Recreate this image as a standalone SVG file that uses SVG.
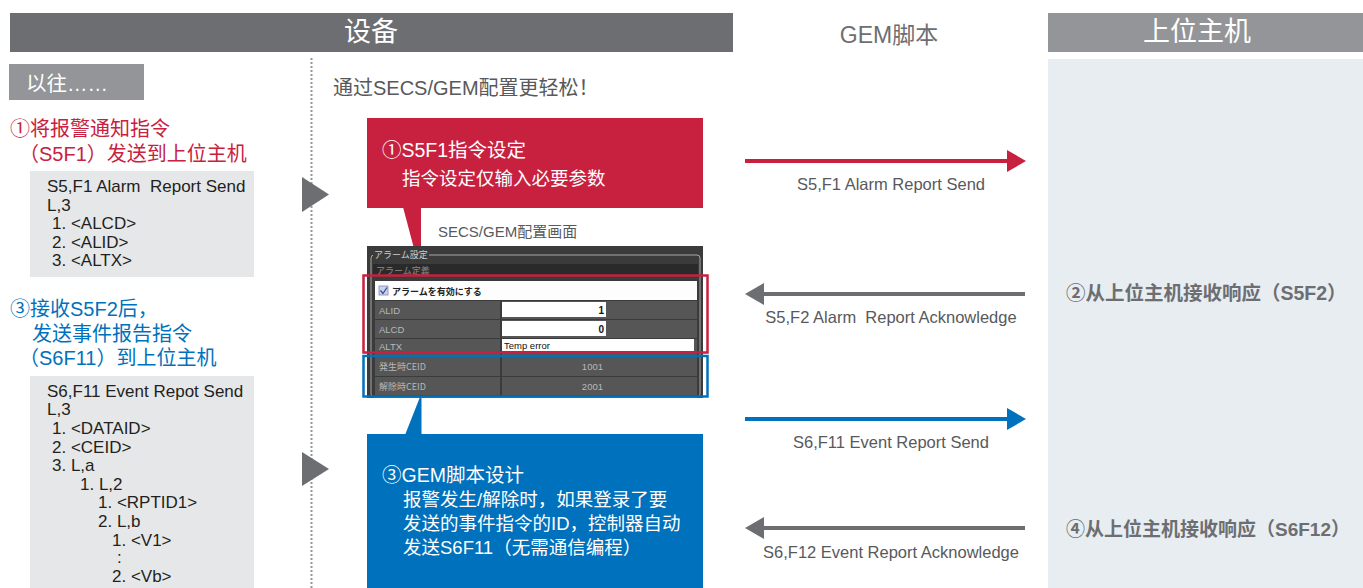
<svg xmlns="http://www.w3.org/2000/svg" width="1363" height="588" viewBox="0 0 1363 588">
<defs>
<style>
text{font-family:"Liberation Sans","Noto Sans CJK SC",sans-serif;}
.hdr{font-size:27px;fill:#fff;text-anchor:middle;}
.code{font-size:17px;fill:#231f20;}
.red{fill:#c8213f;}
.blue{fill:#0071bc;}
.lbl{font-size:16.5px;fill:#58595b;text-anchor:middle;}
.wt{fill:#fff;}
.jp{font-family:"Noto Sans CJK JP","Liberation Sans",sans-serif;font-size:9px;}
.cell{fill:#565656;}
.ctx{font-family:"Liberation Sans",sans-serif;font-size:9.5px;fill:#b8b8b8;}
</style>
<marker id="hRed" markerUnits="userSpaceOnUse" markerWidth="20" markerHeight="22" viewBox="0 0 20 22" refX="0" refY="11" orient="auto"><path d="M0,0 L19,11 L0,22 z" fill="#c8213f"/></marker>
<marker id="hBlue" markerUnits="userSpaceOnUse" markerWidth="20" markerHeight="22" viewBox="0 0 20 22" refX="0" refY="11" orient="auto"><path d="M0,0 L19,11 L0,22 z" fill="#0071bc"/></marker>
<marker id="hGray" markerUnits="userSpaceOnUse" markerWidth="20" markerHeight="22" viewBox="0 0 20 22" refX="0" refY="11" orient="auto"><path d="M0,0 L19,11 L0,22 z" fill="#6d6e71"/></marker>
</defs>
<rect width="1363" height="588" fill="#fff"/>

<g id="header-device">
<rect x="10" y="13" width="723" height="39" fill="#6d6e71"/>
<text class="hdr" x="371" y="41">设备</text>
</g>
<g id="header-gem">
<text x="889" y="43" font-size="23" fill="#6d6e71" text-anchor="middle">GEM脚本</text>
</g>
<g id="header-host">
<rect x="1048" y="13" width="315" height="39" fill="#939598"/>
<text class="hdr" x="1197" y="41">上位主机</text>
<rect x="1048" y="59" width="315" height="529" fill="#e8edf1"/>
</g>

<g id="before-label">
<rect x="9" y="64" width="135" height="36" fill="#939598"/>
<text x="26" y="91" font-size="20.5" fill="#fff">以往……</text>
</g>

<g id="step1-text">
<text x="10" y="136" font-size="20" class="red">①将报警通知指令</text>
<text x="19" y="161" font-size="20" class="red">（S5F1）发送到上位主机</text>
</g>

<g id="s5f1-box">
<rect x="30" y="171" width="224" height="106" fill="#e6e7e8"/>
<text class="code" x="47" y="192" xml:space="preserve">S5,F1 Alarm  Report Send</text>
<text class="code" x="47" y="210.5">L,3</text>
<text class="code" x="52" y="229">1. &lt;ALCD&gt;</text>
<text class="code" x="52" y="247.5">2. &lt;ALID&gt;</text>
<text class="code" x="52" y="266">3. &lt;ALTX&gt;</text>
</g>

<g id="step3-text">
<text x="10" y="316" font-size="20" class="blue">③接收S5F2后，</text>
<text x="32" y="341" font-size="20" class="blue">发送事件报告指令</text>
<text x="19" y="365" font-size="20" class="blue">（S6F11）到上位主机</text>
</g>

<g id="s6f11-box">
<rect x="30" y="376" width="224" height="212" fill="#e6e7e8"/>
<text class="code" x="47" y="397">S6,F11 Event Repot Send</text>
<text class="code" x="47" y="415">L,3</text>
<text class="code" x="52" y="434">1. &lt;DATAID&gt;</text>
<text class="code" x="52" y="452.5">2. &lt;CEID&gt;</text>
<text class="code" x="52" y="471">3. L,a</text>
<text class="code" x="80" y="490">1. L,2</text>
<text class="code" x="98" y="508">1. &lt;RPTID1&gt;</text>
<text class="code" x="98" y="527">2. L,b</text>
<text class="code" x="112" y="545.5">1. &lt;V1&gt;</text>
<text class="code" x="117" y="563">:</text>
<text class="code" x="112" y="582">2. &lt;Vb&gt;</text>
</g>

<g id="divider">
<line x1="311.5" y1="58" x2="311.5" y2="588" stroke="#939598" stroke-width="2" stroke-dasharray="2,2"/>
<path d="M302,177 L329,194.5 L302,212 z" fill="#6d6e71"/>
<path d="M302,452 L329,469 L302,486 z" fill="#6d6e71"/>
</g>

<g id="secsgem-title">
<text x="333" y="95" font-size="20" fill="#58595b">通过SECS/GEM配置更轻松！</text>
</g>

<g id="callout-red">
<rect x="367" y="118" width="336" height="90" fill="#c8213f"/>
<path d="M403,207 L421,207 L421,275 z" fill="#c8213f"/>
<text class="wt" x="382" y="157" font-size="19.5">①S5F1指令设定</text>
<text class="wt" x="402" y="185" font-size="18.5">指令设定仅输入必要参数</text>
</g>

<g id="screen-caption">
<text x="438" y="237" font-size="15" fill="#58595b">SECS/GEM配置画面</text>
</g>

<g id="screenshot">
<rect x="367" y="246" width="336" height="152" fill="#3b3b3b"/>
<rect x="371" y="255" width="329" height="142" rx="3" fill="none" stroke="#a8a8a8" stroke-width="1"/>
<rect x="373" y="249" width="56" height="10" fill="#3b3b3b"/>
<text class="jp" x="374" y="258" fill="#cfcfcf">アラーム設定</text>
<rect x="373" y="264" width="325" height="12" fill="#2a2a2a"/>
<text class="jp" x="376" y="274" fill="#8a8a8a">アラーム定義</text>
<rect x="375" y="281" width="322" height="19" fill="#fdfdfd"/>
<rect x="379" y="286" width="9" height="9" fill="#c9d3ea" stroke="#7d8db5" stroke-width="0.8"/>
<path d="M380.5,290.5 L383,293.5 L387,287.5" fill="none" stroke="#3a4f8a" stroke-width="1.3"/>
<text class="jp" x="392" y="295" fill="#222" font-weight="bold" font-size="10">アラームを有効にする</text>
<rect class="cell" x="375" y="301" width="125" height="18"/>
<rect class="cell" x="502" y="301" width="195" height="18"/>
<rect class="cell" x="375" y="320" width="125" height="18"/>
<rect class="cell" x="502" y="320" width="195" height="18"/>
<rect class="cell" x="375" y="339" width="125" height="16"/>
<rect class="cell" x="502" y="339" width="195" height="16"/>
<rect class="cell" x="375" y="357" width="125" height="19"/>
<rect class="cell" x="502" y="357" width="195" height="19"/>
<rect class="cell" x="375" y="377" width="125" height="18"/>
<rect class="cell" x="502" y="377" width="195" height="18"/>
<rect x="502" y="302" width="104" height="15" fill="#fff"/>
<rect x="502" y="321" width="104" height="15" fill="#fff"/>
<rect x="502" y="339" width="192" height="12" fill="#fff"/>
<text class="ctx" x="379" y="314">ALID</text>
<text class="ctx" x="379" y="333">ALCD</text>
<text class="ctx" x="379" y="350">ALTX</text>
<text class="jp" x="379" y="370" fill="#b8b8b8" font-size="9.5">発生時CEID</text>
<text class="jp" x="379" y="390" fill="#b8b8b8" font-size="9.5">解除時CEID</text>
<text x="604" y="314" font-size="10" font-weight="bold" fill="#111" text-anchor="end">1</text>
<text x="604" y="333" font-size="10" font-weight="bold" fill="#111" text-anchor="end">0</text>
<text x="504" y="349" font-size="9.5" fill="#111">Temp error</text>
<text class="ctx" x="603" y="370" text-anchor="end">1001</text>
<text class="ctx" x="603" y="390" text-anchor="end">2001</text>
<rect x="363.5" y="275.5" width="344" height="77" fill="none" stroke="#c8213f" stroke-width="2.5"/>
<rect x="363.5" y="356" width="344" height="40.5" fill="none" stroke="#0071bc" stroke-width="2.5"/>
</g>

<g id="callout-blue">
<rect x="367" y="434" width="336" height="154" fill="#0071bc"/>
<path d="M405,435 L420,397 L421.5,397 L421.5,435 z" fill="#0071bc"/>
<text class="wt" x="382" y="482" font-size="19.5">③GEM脚本设计</text>
<text class="wt" x="403" y="506" font-size="18.5">报警发生/解除时，如果登录了要</text>
<text class="wt" x="403" y="530" font-size="18.5">发送的事件指令的ID，控制器自动</text>
<text class="wt" x="403" y="554" font-size="18.5">发送S6F11（无需通信编程）</text>
</g>

<g id="host-responses">
<text x="1066" y="300" font-size="19.5" font-weight="bold" fill="#6d6e71">②从上位主机接收响应（S5F2）</text>
<text x="1066" y="536" font-size="19" font-weight="bold" fill="#6d6e71">④从上位主机接收响应（S6F12）</text>
</g>

<g id="connectors">
<line x1="745" y1="161" x2="1007" y2="161" stroke="#c8213f" stroke-width="4" marker-end="url(#hRed)"/>
<text class="lbl" x="891" y="190">S5,F1 Alarm Report Send</text>
<line x1="1025" y1="294" x2="764" y2="294" stroke="#6d6e71" stroke-width="4" marker-end="url(#hGray)"/>
<text class="lbl" x="891" y="323" xml:space="preserve">S5,F2 Alarm  Report Acknowledge</text>
<line x1="745" y1="419" x2="1007" y2="419" stroke="#0071bc" stroke-width="4" marker-end="url(#hBlue)"/>
<text class="lbl" x="891" y="448">S6,F11 Event Report Send</text>
<line x1="1025" y1="528" x2="764" y2="528" stroke="#6d6e71" stroke-width="4" marker-end="url(#hGray)"/>
<text class="lbl" x="891" y="558">S6,F12 Event Report Acknowledge</text>
</g>
</svg>
